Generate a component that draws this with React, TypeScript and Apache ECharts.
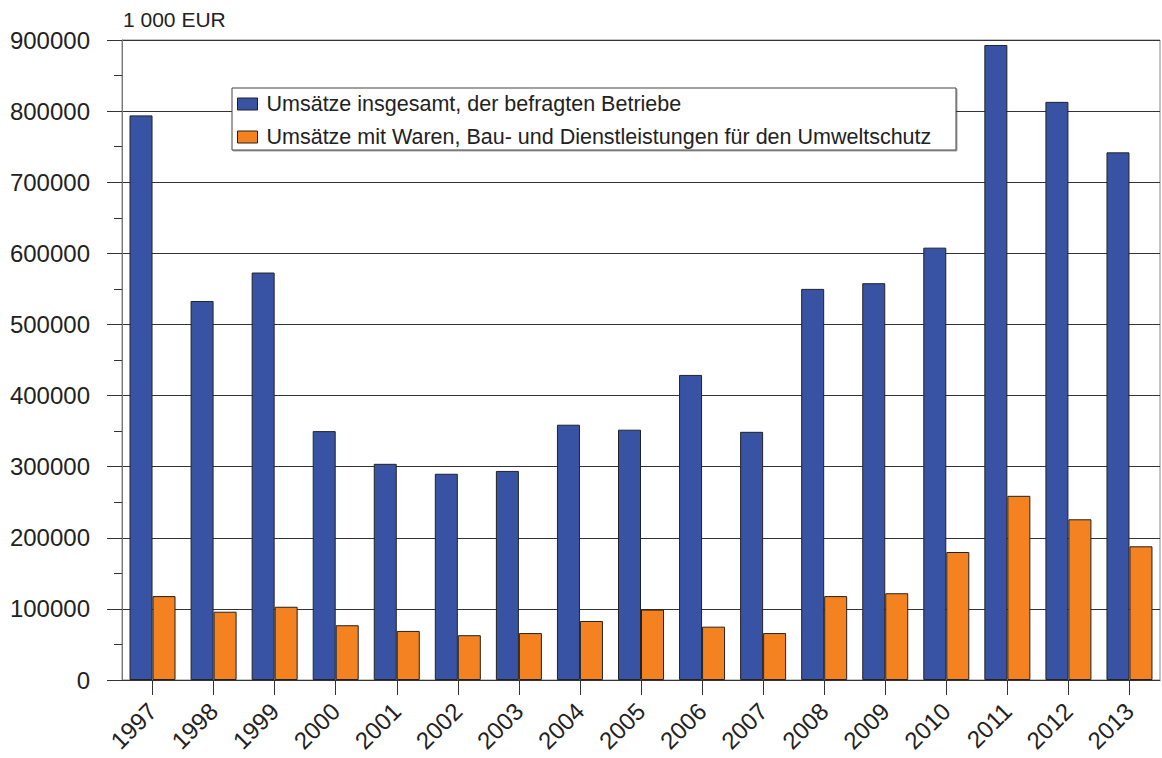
import React, { useEffect, useRef } from "react";
import * as echarts from "echarts";

const years = ["1997","1998","1999","2000","2001","2002","2003","2004","2005","2006","2007","2008","2009","2010","2011","2012","2013"];
const totalSales = [794000, 533000, 573000, 350000, 304000, 290000, 294000, 359000, 352000, 429000, 349000, 550000, 558000, 608000, 893000, 813000, 742000];
const envSales = [118000, 96000, 103000, 77000, 69000, 63000, 66000, 83000, 99000, 75000, 66000, 118000, 122000, 180000, 259000, 226000, 188000];
const seriesNames = [
  "Umsätze insgesamt, der befragten Betriebe",
  "Umsätze mit Waren, Bau- und Dienstleistungen für den Umweltschutz",
];
const unitLabel = "1 000 EUR";

const FONT = "'Liberation Sans', Arial, Helvetica, sans-serif";

export default function App() {
  const ref = useRef<HTMLDivElement>(null);
  useEffect(() => {
    if (!ref.current) return;
    const chart = echarts.init(ref.current, undefined, { renderer: "svg" });
    chart.setOption({
      animation: false,
      backgroundColor: "#ffffff",
      textStyle: { fontFamily: FONT },
      grid: {
        left: 122,
        right: 2,
        top: 40,
        bottom: 78,
        show: true,
        borderColor: "#888",
        borderWidth: 1,
        backgroundColor: "transparent",
      },
      legend: {
        orient: "vertical",
        left: 237,
        top: 93,
        padding: 0,
        itemGap: 11,
        itemWidth: 20,
        itemHeight: 12,
        icon: "rect",
        z: 20,
        selectedMode: false,
        textStyle: { fontFamily: FONT, fontSize: 21.5, color: "#222", lineHeight: 21, padding: [0, 0, 0, 4] },
        itemStyle: { borderColor: "#222", borderWidth: 1 },
        data: seriesNames,
      },
      graphic: [
        {
          type: "rect",
          z: 10,
          shape: { x: 232, y: 88, width: 724, height: 62 },
          style: {
            fill: "#fff",
            stroke: "#444",
            lineWidth: 1,
            shadowColor: "rgba(0,0,0,0.35)",
            shadowOffsetX: 1,
            shadowOffsetY: 1,
            shadowBlur: 1,
          },
        },
        {
          type: "text",
          left: 123,
          top: 9,
          style: { text: unitLabel, fontFamily: FONT, fontSize: 21, fill: "#222" },
        },
      ],
      xAxis: {
        type: "category",
        data: years,
        boundaryGap: true,
        axisLine: { lineStyle: { color: "#333", width: 1 } },
        axisTick: { show: true, alignWithLabel: true, length: 15, lineStyle: { color: "#333" } },
        axisLabel: { rotate: 45, fontSize: 24, color: "#222", margin: 27, fontFamily: FONT },
        splitLine: { show: false },
      },
      yAxis: {
        type: "value",
        min: 0,
        max: 900000,
        interval: 100000,
        axisLine: { show: true, lineStyle: { color: "#777", width: 1 } },
        axisTick: { show: true, length: 15, lineStyle: { color: "#333" } },
        minorTick: { show: true, splitNumber: 2, length: 8, lineStyle: { color: "#333" } },
        axisLabel: {
          fontSize: 24,
          color: "#222",
          margin: 32,
          fontFamily: FONT,
          formatter: (v: number) => String(v),
        },
        splitLine: { show: true, lineStyle: { color: "#333", width: 1 } },
      },
      series: [
        {
          name: seriesNames[0],
          type: "bar",
          data: totalSales,
          barWidth: 23,
          barGap: "0%",
          itemStyle: { color: "#3953A4", borderColor: "#222", borderWidth: 1 },
        },
        {
          name: seriesNames[1],
          type: "bar",
          data: envSales,
          barWidth: 23,
          barGap: "0%",
          itemStyle: { color: "#F58220", borderColor: "#222", borderWidth: 1 },
        },
      ],
    });
    return () => chart.dispose();
  }, []);
  return (
    <div
      ref={ref}
      style={{ position: "absolute", left: 0, top: 0, width: 1162, height: 758 }}
    />
  );
}
